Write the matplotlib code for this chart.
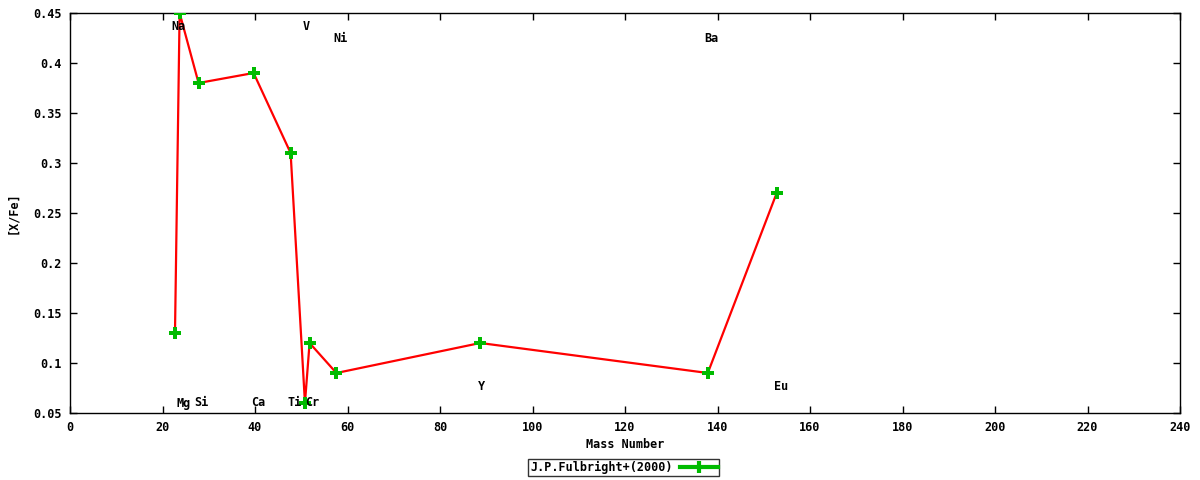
import matplotlib
matplotlib.use("Agg")
import matplotlib.pyplot as plt
from matplotlib.lines import Line2D

# data (mass number vs [X/Fe])
mass = [22.7, 23.7, 27.8, 39.7, 47.7, 50.8, 51.8, 57.6, 88.7, 137.9, 152.8]
xfe = [0.13, 0.45, 0.38, 0.39, 0.31, 0.06, 0.12, 0.09, 0.12, 0.09, 0.27]

# element labels and where they sit
elements = ["Na", "Mg", "Si", "Ca", "Ti", "V", "Cr", "Ni", "Y", "Ba", "Eu"]
label_x = [23.5, 24.6, 28.5, 40.6, 48.6, 51.0, 52.3, 58.5, 89.0, 138.7, 153.7]
label_y = [0.437, 0.060, 0.060, 0.060, 0.060, 0.437, 0.060, 0.425, 0.076, 0.425, 0.076]

xticks = list(range(0, 241, 20))
yticks = [0.05, 0.1, 0.15, 0.2, 0.25, 0.3, 0.35, 0.4, 0.45]
ytick_labels = ["0.05", "0.1", "0.15", "0.2", "0.25", "0.3", "0.35", "0.4", "0.45"]

FONT = dict(family="DejaVu Sans Mono", weight="bold", size=8.5)
plt.rcParams["font.family"] = "DejaVu Sans Mono"
plt.rcParams["font.weight"] = "bold"

fig = plt.figure(figsize=(12, 4.8), dpi=100)
ax = fig.add_axes([70 / 1200, 67 / 480, 1110 / 1200, 400 / 480])

ax.plot(mass, xfe, "-", color="#ff0000", lw=1.6, zorder=2)
ax.plot(mass, xfe, "P", color="#00bb00", ms=9, mew=0, zorder=3)

for name, lx, ly in zip(elements, label_x, label_y):
    ax.text(lx, ly, name, ha="center", va="center", **FONT)

ax.set_xlim(0, 240)
ax.set_ylim(0.05, 0.45)
ax.set_xticks(xticks)
ax.set_yticks(yticks)
ax.set_yticklabels(ytick_labels)
ax.tick_params(direction="in", top=True, right=True, length=5, width=1,
               labelsize=8.5, pad=6)
for s in ax.spines.values():
    s.set_linewidth(1.0)

ax.set_xlabel("Mass Number", labelpad=3, **FONT)
ax.set_ylabel("[X/Fe]", labelpad=10, **FONT)

handle = Line2D([], [], color="#00bb00", lw=3, marker="|", ms=9, mew=3)
leg = ax.legend([handle], ["J.P.Fulbright+(2000)"], loc="upper center",
                bbox_to_anchor=(0.499, -0.1), frameon=True, fancybox=False,
                edgecolor="black", borderpad=0.15, handlelength=3.2,
                handletextpad=0.6, markerfirst=False, prop=FONT)
leg.get_frame().set_linewidth(1.0)

fig.savefig("out.png", dpi=100)
